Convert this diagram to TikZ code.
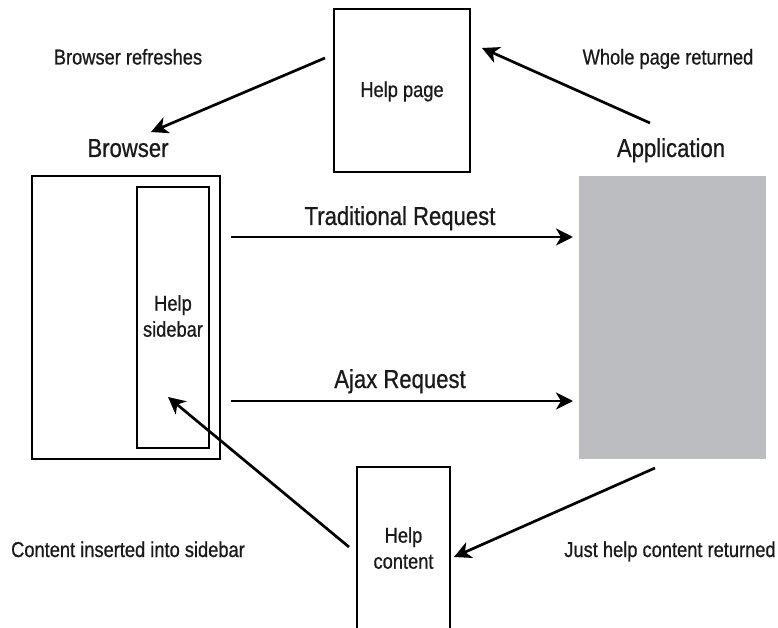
\documentclass[tikz,border=0pt]{standalone}
\usepackage{fontspec}
\setmainfont{Liberation Sans}[FakeStretch=0.85,FakeBold=0.7]
\usetikzlibrary{arrows.meta}
\definecolor{appgray}{RGB}{188,189,192}
\tikzset{
  box/.style={draw=black, line width=2pt, inner sep=0pt},
  smalllbl/.style={font=\fontsize{21.5}{26}\selectfont, inner sep=0pt, text=black!90},
  biglbl/.style={font=\fontsize{26}{30}\selectfont, inner sep=0pt, text=black!90},
  flow/.style={line width=2.7pt, -{Stealth[length=17pt,width=17pt,inset=5pt]}}
}
\begin{document}
\begin{tikzpicture}[x=1pt,y=-1pt]
\useasboundingbox (0,0) rectangle (778,628);
% boxes
\node[box, minimum width=136pt, minimum height=163pt] (hp) at (402,90.5) {};
\node[box, line width=1.8pt, minimum width=188pt, minimum height=283pt] (br) at (126,317.5) {};
\node[box, minimum width=72pt, minimum height=261pt] (sb) at (173,317.5) {};
\node[fill=appgray, inner sep=0pt, minimum width=187pt, minimum height=283pt] (app) at (672.5,317.5) {};
\coordinate (hcbl) at (357,630);
\coordinate (hctl) at (357,467);
\coordinate (hctr) at (450,467);
\coordinate (hcbr) at (450,630);
\draw[line width=2pt] (hcbl) -- (hctl) -- (hctr) -- (hcbr);
% box texts
\node[smalllbl, anchor=base] (hpt) at (402,97) {Help page};
\node[smalllbl, align=center] (sbt) at (173,316) {Help\\sidebar};
\node[smalllbl, align=center] (hct) at (403.5,548) {Help\\content};
% labels
\node[biglbl, anchor=base] (brl) at (128,157) {Browser};
\node[biglbl, anchor=base] (appl) at (671,157) {Application};
\node[biglbl, anchor=base] (trl) at (400,225) {Traditional Request};
\node[biglbl, anchor=base] (ajl) at (400,388) {Ajax Request};
\node[smalllbl, anchor=base] (brr) at (128,64.5) {Browser refreshes};
\node[smalllbl, anchor=base] (wpr) at (668,64.5) {Whole page returned};
\node[smalllbl, anchor=base] (cis) at (128,557) {Content inserted into sidebar};
\node[smalllbl, anchor=base] (jhc) at (670,557) {Just help content returned};
% arrow ends
\coordinate (a1s) at (325,58);   \coordinate (a1e) at (151,132);
\coordinate (a2s) at (650,123);  \coordinate (a2e) at (482,48);
\coordinate (a3s) at (231,237);  \coordinate (a3e) at (573,237);
\coordinate (a4s) at (231,401);  \coordinate (a4e) at (573,401);
\coordinate (a5s) at (349,547);  \coordinate (a5e) at (168,397);
\coordinate (a6s) at (655,468);  \coordinate (a6e) at (454,557);
\draw[flow] (a1s) -- (a1e);
\draw[flow] (a2s) -- (a2e);
\draw[flow] (a3s) -- (a3e);
\draw[flow] (a4s) -- (a4e);
\draw[flow] (a5s) -- (a5e);
\draw[flow] (a6s) -- (a6e);
\end{tikzpicture}
\end{document}
